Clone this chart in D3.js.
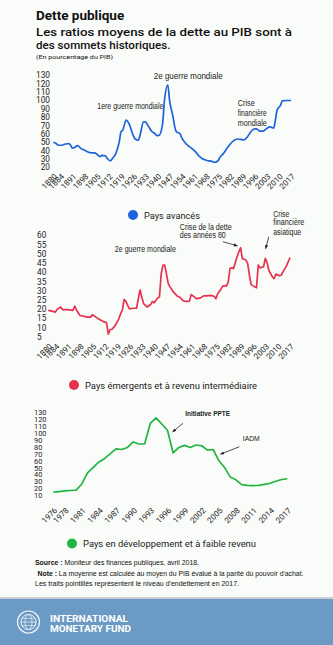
<!DOCTYPE html>
<html><head><meta charset="utf-8">
<script src="https://cdn.jsdelivr.net/npm/d3@7"></script>
<style>
html,body{margin:0;padding:0;background:#fafcf9;}
svg{display:block;font-family:Roboto,"Liberation Sans",Arial,sans-serif;}
</style></head>
<body>
<svg id="c" width="333" height="645"></svg>
<script>
// ---------- DATA ----------
const advYears = [1880,1881,1883,1885,1887,1889,1890,1891,1892,1894,1896,1898,1900,1902,1904,1905,1907,1908,1910,1911,1913,1914,1916,1918,1919,1920,1922,1923,1924,1926,1927,1929,1930,1932,1933,1935,1937,1938,1940,1941,1943,1944,1946,1947,1949,1950,1951,1953,1954,1956,1958,1960,1962,1964,1966,1967,1969,1971,1973,1975,1976,1978,1980,1982,1984,1986,1988,1990,1992,1994,1996,1997,1999,2001,2003,2005,2007,2008,2009,2011,2012,2014,2017];
const advValues = [49.5,49,46,46,47.5,48,46,42.5,43,45.5,42,40,38,37,37,35.5,32.5,34,33.5,30.5,27.5,30,36,50,62,64,76,74,70,58,54,52,58,74,74,68,62,61,57.5,58,72,98,118,100,80,68,62,60,55,49,45,42,38,33,30,29,27.5,27,25.5,27.5,31.5,36,42,47.5,51.5,53.5,53,52.5,56.5,62.5,65.5,65.5,63,63,66,68,66.5,76,88,94,99,99.5,99.5];

const emYears = [1880,1881,1884,1885,1887,1888,1891,1894,1895,1896,1898,1900,1902,1904,1905,1907,1909,1911,1912,1913,1914,1915,1916,1918,1920,1921,1922,1923,1924,1925,1926,1928,1930,1932,1933,1934,1936,1938,1939,1940,1942,1943,1944,1945,1946,1948,1949,1951,1953,1955,1956,1958,1960,1961,1962,1964,1966,1968,1970,1972,1974,1975,1976,1977,1979,1981,1982,1983,1984,1985,1987,1988,1989,1990,1992,1993,1994,1995,1997,1998,1999,2000,2002,2003,2004,2005,2007,2008,2009,2011,2012,2013,2015,2017];
const emValues = [19.2,19,18.2,19.7,21,19.6,19.6,19.2,21.5,19.2,16.4,16,15.5,15.5,16.8,15.5,14.2,13.2,12.8,12.5,6.3,8.8,8.8,11,14.6,17.4,19.5,25.1,24,21.9,20,20.3,20.3,30.2,26.4,22.8,21,22.3,24,23.3,25.9,26.4,39,43.7,43.7,33.7,31.9,29,27,26,24.6,24,24.2,27.7,27,25.5,25.8,27,27,27.3,26.8,25.5,28.2,29.5,32.4,32.4,34.6,41.8,42.2,41.8,48.2,50.9,53.1,47.3,46.4,44.6,38.2,33.1,31.9,31.4,43.7,42.2,42.8,47.3,45.1,40.9,37.3,36.4,38.8,37.9,38.2,40,43.3,47.8];

const lowYears = d3.range(1976, 2018);
const lowValues = [14,15,16,16.5,17,26,42,50,58,63,70,77,76,79,87,84,84,114,122,113,104,71,79,82,79,82.5,81.5,75,76,60,50,36,32,25,24,23.7,24,25.5,27,30,32.5,33.6];

const advYTicks = d3.range(20, 131, 10);
const emYTicks = d3.range(5, 61, 5);
const lowYTicks = d3.range(10, 131, 10);
const longXTicks = [1880,1884,1891,1898,1905,1912,1919,1926,1933,1940,1947,1954,1961,1968,1975,1982,1989,1996,2003,2010,2017];
const lowXTicks = [1976,1978,1981,1984,1987,1990,1993,1996,1999,2002,2005,2008,2011,2014,2017];

const seriesNames = ["Pays avancés","Pays émergents et à revenu intermédiaire","Pays en développement et à faible revenu"];
const seriesColors = ["#1f63dc","#e8304f","#22b443"];

// ---------- DRAW ----------
const svg = d3.select("#c");
svg.append("rect").attr("width",333).attr("height",645).attr("fill","#fafcf9");

// Titles
svg.append("text").attr("x",36).attr("y",20).attr("font-size",13.5).attr("font-weight",700).attr("fill","#111").text("Dette publique");
svg.append("text").attr("x",36).attr("y",36).attr("font-size",11.6).attr("font-weight",500).attr("fill","#111")
  .attr("textLength",256).attr("lengthAdjust","spacingAndGlyphs").text("Les ratios moyens de la dette au PIB sont à");
svg.append("text").attr("x",36).attr("y",49).attr("font-size",11.6).attr("font-weight",500).attr("fill","#111").text("des sommets historiques.");
svg.append("text").attr("x",36).attr("y",58.5).attr("font-size",6).attr("fill","#111")
  .attr("textLength",77).attr("lengthAdjust","spacingAndGlyphs").text("(En pourcentage du PIB)");

function drawChart(cfg){
  const g = svg.append("g");
  const x = d3.scaleLinear().domain(cfg.xDomain).range(cfg.xRange);
  const y = d3.scaleLinear().domain(cfg.yDomain).range(cfg.yRange);
  // y labels
  const ya = g.append("g").attr("transform",`translate(${cfg.yLabelX},0)`)
    .call(d3.axisLeft(y).tickValues(cfg.yTicks).tickSize(0).tickPadding(0).tickFormat(d3.format("d")));
  ya.select(".domain").remove();
  ya.selectAll("text").attr("text-anchor",cfg.yAnchor).attr("font-family","Roboto,'Liberation Sans',sans-serif")
    .attr("font-size",cfg.yFont).attr("fill","#222").attr("x",0).attr("dy","0.35em");
  // x labels
  const xa = g.append("g").attr("transform",`translate(0,${cfg.xAxisY})`)
    .call(d3.axisBottom(x).tickValues(cfg.xTicks).tickSize(0).tickFormat(d3.format("d")));
  xa.select(".domain").remove();
  xa.selectAll("text").attr("text-anchor","end").attr("font-family","Roboto,'Liberation Sans',sans-serif")
    .attr("font-size",cfg.xFont).attr("fill","#222")
    .attr("x",0).attr("y",0).attr("dy","0.7em").attr("transform","rotate(-45)");
  // line
  const pts = cfg.years.map((yr,i)=>[yr,cfg.values[i]]);
  g.append("path").datum(pts).attr("fill","none").attr("stroke",cfg.color).attr("stroke-width",1.7)
    .attr("stroke-linejoin","round")
    .attr("d", d3.line().x(d=>x(d[0])).y(d=>y(d[1])).curve(cfg.curve||d3.curveLinear));
  // legend
  g.append("circle").attr("cx",cfg.legend[0]).attr("cy",cfg.legend[1]).attr("r",5).attr("fill",cfg.color);
  g.append("text").attr("x",cfg.legend[0]+11).attr("y",cfg.legend[1]+3.5).attr("font-size",9.6).attr("fill","#222")
    .attr("textLength",cfg.legend[2]).attr("lengthAdjust","spacingAndGlyphs").text(cfg.name);
  return {g,x,y};
}

// arrow marker
svg.append("defs").append("marker").attr("id","ah").attr("viewBox","0 0 10 10").attr("refX",9).attr("refY",5)
  .attr("markerWidth",5).attr("markerHeight",5).attr("orient","auto")
  .append("path").attr("d","M0,1 L10,5 L0,9 Z").attr("fill","#222");

function note(g, x, y, lines, opts){
  lines.forEach((l,i)=>{
    const t = g.append("text").attr("x",x(l[0])).attr("y",y(l[1])).attr("dy","0.35em")
      .attr("font-family","'Liberation Sans Narrow','Liberation Sans',Arial,sans-serif")
      .attr("font-size",opts.size||8.5).attr("fill","#222").attr("font-weight",opts.weight||400)
      .attr("text-anchor",opts.anchor||"start").text(l[2]);
    if(l[3]) t.attr("textLength",l[3]).attr("lengthAdjust","spacingAndGlyphs");
  });
}
function arrow(g,x,y,a){
  g.append("line").attr("x1",x(a[0])).attr("y1",y(a[1])).attr("x2",x(a[2])).attr("y2",y(a[3]))
    .attr("stroke","#222").attr("stroke-width",0.8).attr("marker-end","url(#ah)");
}

const c1 = drawChart({xDomain:[1880,2017], xRange:[53.3,291], yDomain:[20,130], yRange:[167,75],
  yTicks:advYTicks, yLabelX:50, yAnchor:"end", yFont:8.3, xTicks:longXTicks, xAxisY:173, xFont:8,
  years:advYears, values:advValues, color:seriesColors[0], legend:[133,215,56], name:seriesNames[0], curve:d3.curveMonotoneX});
note(c1.g,c1.x,c1.y,[[1924.4,93,"1ere guerre mondiale",66],[1957.8,129.4,"2e guerre mondiale",69]],{anchor:"middle",size:9});
note(c1.g,c1.x,c1.y,[[1986.3,96.5,"Crise",17],[1986.3,84.5,"financière",29],[1986.3,72.6,"mondiale",29]],{size:9});

const c2 = drawChart({xDomain:[1880,2017], xRange:[48.3,290], yDomain:[5,60], yRange:[336.5,235],
  yTicks:emYTicks, yLabelX:37, yAnchor:"start", yFont:8.3, xTicks:longXTicks, xAxisY:343, xFont:8,
  years:emYears, values:emValues, color:seriesColors[1], legend:[74,385,172], name:seriesNames[1]});
note(c2.g,c2.x,c2.y,[[1935,52.4,"2e guerre mondiale",61]],{anchor:"middle",size:8.5});
note(c2.g,c2.x,c2.y,[[1954.5,64.2,"Crise de la dette",52],[1954.5,59.8,"des années 80",46]],{size:8.5});
note(c2.g,c2.x,c2.y,[[2007.5,71.5,"Crise",16],[2007.5,66.8,"financière",31],[2007.5,61.8,"asiatique",28]],{size:8.5});
arrow(c2.g,c2.x,c2.y,[1978.9,56.4,1987.2,54.1]);
arrow(c2.g,c2.x,c2.y,[2005,59.1,2003.2,52.6]);

const c3 = drawChart({xDomain:[1976,2017], xRange:[53.3,287.3], yDomain:[10,130], yRange:[495,412.3],
  yTicks:lowYTicks, yLabelX:34, yAnchor:"start", yFont:7.4, xTicks:lowXTicks, xAxisY:507, xFont:8,
  years:lowYears, values:lowValues, color:seriesColors[2], legend:[72,543.5,173], name:seriesNames[2]});
note(c3.g,c3.x,c3.y,[[1999.1,129,"Initiative PPTE",45]],{size:7.5,weight:700});
note(c3.g,c3.x,c3.y,[[2009.2,93,"IADM",17]],{size:8});
arrow(c3.g,c3.x,c3.y,[1998.7,114,1996.9,101.5]);
arrow(c3.g,c3.x,c3.y,[2008.6,80,2005.3,69.2]);

// Source / notes
const src = svg.append("g").attr("font-size",6.6).attr("fill","#111")
  .attr("font-family","'Liberation Sans Narrow','Liberation Sans',Arial,sans-serif");
const s1 = src.append("text").attr("x",35).attr("y",565).attr("textLength",164).attr("lengthAdjust","spacingAndGlyphs");
s1.append("tspan").attr("font-weight",700).text("Source : ");
s1.append("tspan").attr("font-weight",500).text("Moniteur des finances publiques, avril 2018.");
const s2 = src.append("text").attr("x",37.5).attr("y",575.5).attr("textLength",266).attr("lengthAdjust","spacingAndGlyphs");
s2.append("tspan").attr("font-weight",700).text("Note : ");
s2.append("tspan").text("La moyenne est calculée au moyen du PIB évalué à la parité du pouvoir d'achat.");
src.append("text").attr("x",35).attr("y",585.5).attr("textLength",204).attr("lengthAdjust","spacingAndGlyphs")
  .text("Les traits pointillés représentent le niveau d'endettement en 2017.");

// Footer
svg.append("rect").attr("x",0).attr("y",597).attr("width",333).attr("height",2).attr("fill","#c9cfd4");
svg.append("rect").attr("x",0).attr("y",599).attr("width",333).attr("height",46).attr("fill","#6b9bc5");
const logo = svg.append("g").attr("transform","translate(28.5,622)").attr("fill","none").attr("stroke","#f2f5f8");
logo.append("circle").attr("r",11).attr("stroke-width",1.2);
logo.append("circle").attr("r",7.5).attr("stroke-width",1);
logo.append("ellipse").attr("rx",3.5).attr("ry",7.5).attr("stroke-width",0.7);
logo.append("line").attr("x1",-7.5).attr("x2",7.5).attr("stroke-width",0.7);
logo.append("line").attr("x1",-6.5).attr("x2",6.5).attr("y1",-3.5).attr("y2",-3.5).attr("stroke-width",0.6);
logo.append("line").attr("x1",-6.5).attr("x2",6.5).attr("y1",3.5).attr("y2",3.5).attr("stroke-width",0.6);
svg.append("text").attr("x",50).attr("y",622).attr("font-size",8.6).attr("font-weight",700).attr("fill","#fff")
  .attr("textLength",78).attr("lengthAdjust","spacingAndGlyphs").text("INTERNATIONAL");
svg.append("text").attr("x",50).attr("y",631.5).attr("font-size",8.6).attr("font-weight",700).attr("fill","#fff")
  .attr("textLength",81).attr("lengthAdjust","spacingAndGlyphs").text("MONETARY FUND");
</script>
</body></html>
